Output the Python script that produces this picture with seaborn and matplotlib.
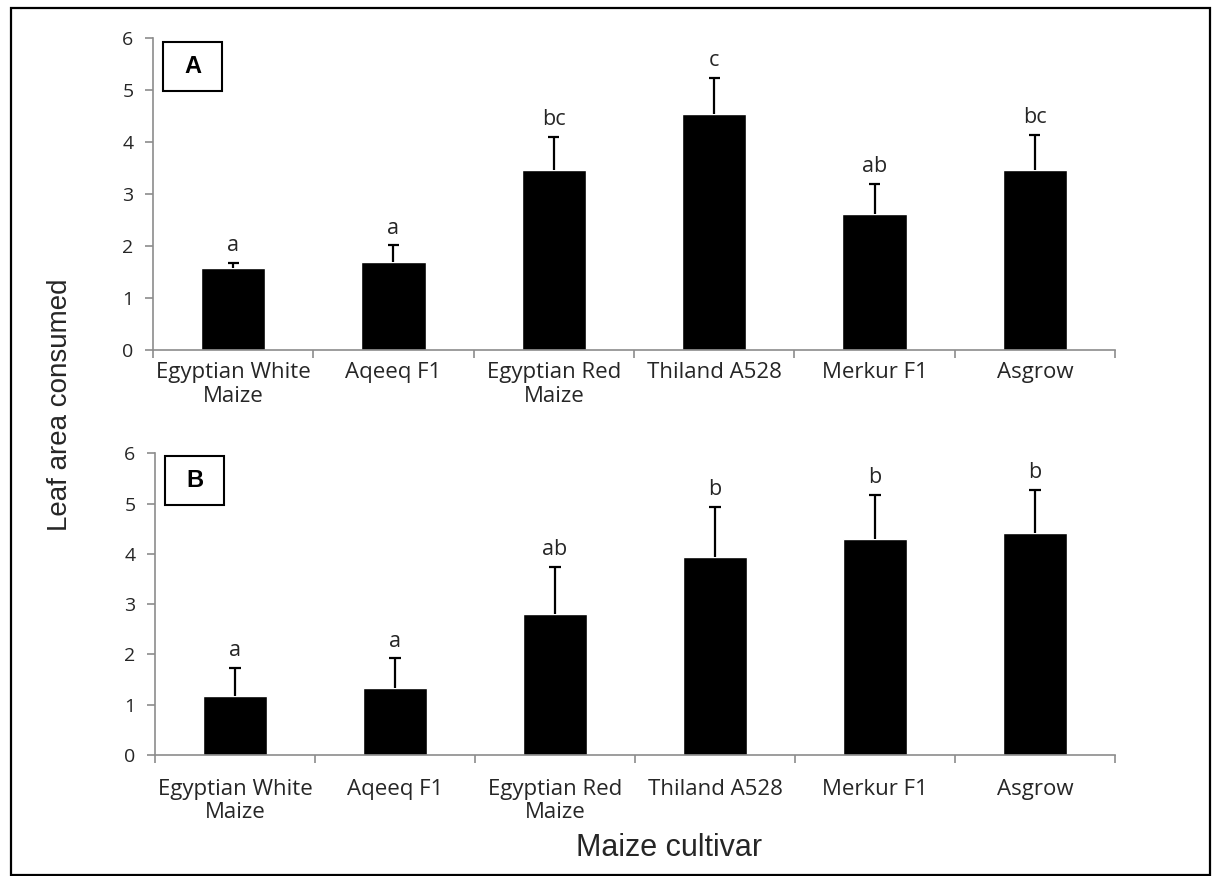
import matplotlib
matplotlib.use("Agg")
import matplotlib.pyplot as plt
import seaborn as sns
import pandas as pd
import numpy as np
from matplotlib.patches import Rectangle

# ---- data ----
cultivars = ["Egyptian White\nMaize", "Aqeeq F1", "Egyptian Red\nMaize",
             "Thiland A528", "Merkur F1", "Asgrow"]

mean_a = [1.57, 1.70, 3.46, 4.53, 2.62, 3.46]
err_a = [0.11, 0.31, 0.64, 0.71, 0.57, 0.67]
letters_a = ["a", "a", "bc", "c", "ab", "bc"]

mean_b = [1.18, 1.33, 2.80, 3.94, 4.29, 4.41]
err_b = [0.56, 0.59, 0.94, 1.00, 0.89, 0.87]
letters_b = ["a", "a", "ab", "b", "b", "b"]

sns.set_theme(style="white")
plt.rcParams['font.family'] = ['Open Sans', 'DejaVu Sans']

fig = plt.figure(figsize=(12.12, 8.76), dpi=100)
ax_a = fig.add_axes([0.1262, 0.6005, 0.7938, 0.3561])
ax_b = fig.add_axes([0.1279, 0.1381, 0.7921, 0.3444])

spine_col = "#8c8c8c"
text_col = "#262626"


def draw_panel(ax, means, errs, letters, tag, label_pad):
    df = pd.DataFrame({"cultivar": cultivars, "mean": means})
    sns.barplot(data=df, x="cultivar", y="mean", color="black", width=0.4,
                saturation=1, ax=ax, errorbar=None)
    # upper-only error bars, cap only at the top
    xs = np.arange(len(means))
    tops = np.array(means) + np.array(errs)
    ax.vlines(xs, means, tops, color="black", lw=1.6)
    ax.hlines(tops, xs - 0.035, xs + 0.035, color="black", lw=1.6)
    for i, (t, s) in enumerate(zip(tops, letters)):
        ax.annotate(s, (i, t), xytext=(0, 5), textcoords="offset points",
                    ha="center", va="bottom", fontsize=15.5, color=text_col)
    ax.set_xlim(-0.5, len(means) - 0.5)
    ax.set_ylim(0, 6)
    ax.set_yticks(range(7))
    ax.set_xlabel("")
    ax.set_ylabel("")
    for side in ["top", "right"]:
        ax.spines[side].set_visible(False)
    for side in ["left", "bottom"]:
        ax.spines[side].set_color(spine_col)
        ax.spines[side].set_linewidth(1.2)
    # category boundary ticks on x, none at the bar centres
    ax.set_xticks([i - 0.5 for i in range(len(means) + 1)], minor=True)
    ax.tick_params(axis="x", which="major", length=0, pad=label_pad,
                   labelsize=16, labelcolor=text_col)
    for lab in ax.get_xticklabels():
        lab.set_linespacing(1.15)
    ax.tick_params(axis="x", which="minor", length=6, width=1.2,
                   color=spine_col, direction="out", bottom=True)
    ax.tick_params(axis="y", length=6, width=1.2, color=spine_col,
                   direction="out", left=True, labelsize=14,
                   labelcolor=text_col, pad=8)
    # boxed panel tag
    w, h = 59 / ax.bbox.width, 49 / ax.bbox.height
    x0, y0 = 0.0104, 0.91 - h / 2
    ax.add_patch(Rectangle((x0, y0), w, h, transform=ax.transAxes,
                           fill=False, edgecolor="black", lw=1.5, clip_on=False))
    ax.text(x0 + w / 2, y0 + h / 2, tag, transform=ax.transAxes,
            ha="center", va="center", fontsize=17, fontweight="bold",
            family=["Liberation Sans", "DejaVu Sans"], color="black")


draw_panel(ax_a, mean_a, err_a, letters_a, "A", 9)
draw_panel(ax_b, mean_b, err_b, letters_b, "B", 17)

fig.text(0.0495, 0.538, "Leaf area consumed", rotation=90, ha="center",
         va="center", fontsize=20, color=text_col,
         family=["Liberation Sans", "DejaVu Sans"])
fig.text(0.552, 0.032, "Maize cultivar", ha="center", va="center",
         fontsize=22, color=text_col, family=["Liberation Sans", "DejaVu Sans"])

# outer frame around the whole figure
fig.patches.append(Rectangle((11 / 1212, 1 / 876), 1199 / 1212, 867 / 876,
                             transform=fig.transFigure, fill=False,
                             edgecolor="black", lw=1.6))

fig.savefig("out.png", dpi=100)
